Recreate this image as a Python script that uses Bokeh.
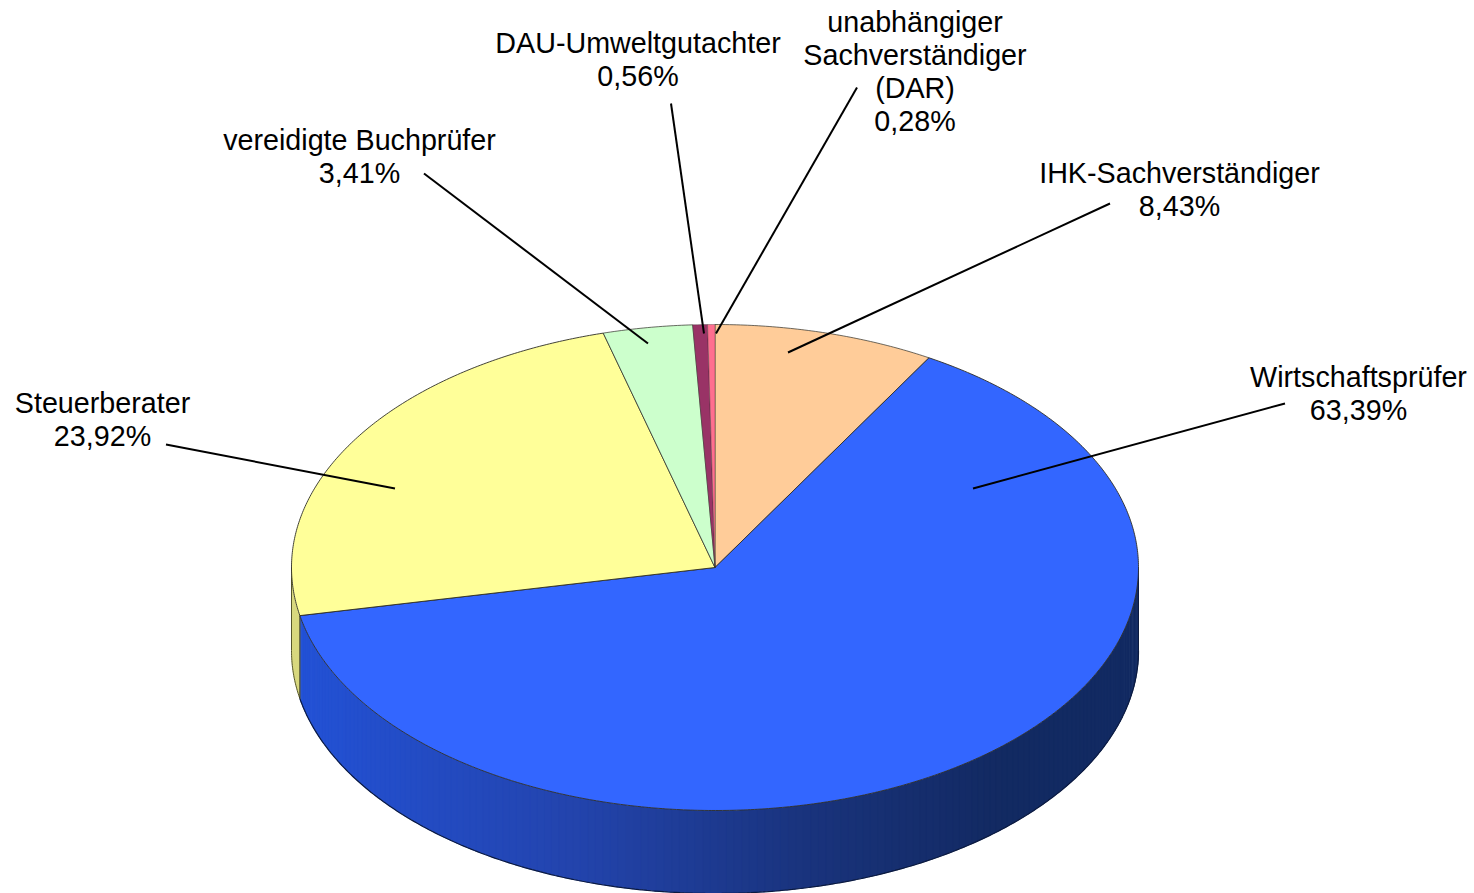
import numpy as np
from bokeh.plotting import figure
from bokeh.embed import file_html
from bokeh.resources import INLINE
from bokeh.core.properties import value

# chart values (clockwise from the top of the pie)
categories = ["IHK-Sachverständiger", "Wirtschaftsprüfer", "Steuerberater",
              "vereidigte Buchprüfer", "DAU-Umweltgutachter",
              "unabhängiger Sachverständiger (DAR)"]
shares = [8.43, 63.39, 23.92, 3.41, 0.56, 0.28]
top_colors = ["#FFCC99", "#3366FF", "#FFFF99", "#CCFFCC", "#993366", "#FF6F8F"]
side_colors = ["#B08D6A", "#2348B0", "#D8D87E", "#8DB08D", "#6A2347", "#B04D63"]
outline_alpha = [0.7, 0.9, 0.9, 0.7, 0.35, 0.35]

# label text, label centre, first line centre, leader line (from, to) in page pixels
label_lines = [["IHK-Sachverständiger", "8,43%"], ["Wirtschaftsprüfer", "63,39%"],
               ["Steuerberater", "23,92%"], ["vereidigte Buchprüfer", "3,41%"],
               ["DAU-Umweltgutachter", "0,56%"],
               ["unabhängiger", "Sachverständiger", "(DAR)", "0,28%"]]
label_x = [1179, 1358, 102, 359, 637.5, 914.5]
label_y = [172, 376, 402, 139, 42, 21]
leader_from = [(1109.5, 203), (1284.5, 403), (165.5, 444), (423.5, 173), (670.5, 103), (856.5, 87)]
leader_to = [(787.5, 352), (972.5, 488), (394.5, 488), (647.5, 343), (703.5, 333), (715.5, 333)]

cx, cy, rx, ry, depth = 714.5, 567, 423.5, 243, 83
TOTAL = sum(shares)


def rim(t):
    return cx + rx * np.sin(t), cy - ry * np.cos(t)


p = figure(width=1474, height=893, x_range=(0, 1474), y_range=(893, 0),
           output_backend="svg", toolbar_location=None, min_border=0,
           outline_line_color=None, background_fill_color="white")
p.axis.visible = False
p.grid.visible = False

edges = np.concatenate([[0], np.cumsum(shares)]) / TOTAL * 2 * np.pi

# side wall: only the part of the rim facing the viewer (pi/2 .. 3pi/2)
grad_x = [300, 580, 800, 1000, 1138]
grad_rgb = np.array([[0x24, 0x52, 0xD6], [0x23, 0x44, 0xAC], [0x1A, 0x34, 0x7E],
                     [0x13, 0x2A, 0x62], [0x12, 0x2A, 0x62]], float)
for i, (a, b) in enumerate(zip(edges[:-1], edges[1:])):
    lo, hi = max(a, np.pi / 2), min(b, 3 * np.pi / 2)
    if hi <= lo:
        continue
    if categories[i] == "Wirtschaftsprüfer":
        ts = np.linspace(lo, hi, 161)
        for t0, t1 in zip(ts[:-1], ts[1:]):
            t = np.linspace(t0, t1 + 0.004, 3)
            x, y = rim(t)
            mid = np.interp(x.mean(), grad_x, grad_rgb[:, 0]), np.interp(x.mean(), grad_x, grad_rgb[:, 1]), np.interp(x.mean(), grad_x, grad_rgb[:, 2])
            col = "#%02x%02x%02x" % tuple(int(c) for c in mid)
            p.patch(np.r_[x, x[::-1]], np.r_[y, y[::-1] + depth], fill_color=col, line_color=col, line_width=0.5)
    else:
        t = np.linspace(lo, hi, 60)
        x, y = rim(t)
        p.patch(np.r_[x, x[::-1]], np.r_[y, y[::-1] + depth], fill_color=side_colors[i],
                line_color=side_colors[i], line_width=0.5)

# outline of the side wall
t = np.linspace(np.pi / 2, edges[2], 300)
x, y = rim(t)
p.line(x, y + depth, line_color="#0b1a40", line_width=1.2)
t = np.linspace(edges[2], 3 * np.pi / 2, 30)
x, y = rim(t)
p.line(x, y + depth, line_color="#55552a", line_width=1)
xs, ys = rim(np.array([edges[2]]))
p.line([xs[0], xs[0]], [ys[0], ys[0] + depth], line_color="#333322", line_width=1)
xs, ys = rim(np.array([np.pi / 2]))
p.line([xs[0], xs[0]], [ys[0], ys[0] + depth], line_color="#0b1a40", line_width=1)
xs, ys = rim(np.array([3 * np.pi / 2]))
p.line([xs[0], xs[0]], [ys[0], ys[0] + depth], line_color="#55552a", line_width=1)

# top face
for i, (a, b) in enumerate(zip(edges[:-1], edges[1:])):
    t = np.linspace(a, b, max(4, int((b - a) * 120)))
    x, y = rim(t)
    p.patch(np.r_[cx, x], np.r_[cy, y], fill_color=top_colors[i],
            line_color="#2f2f28", line_width=1, line_alpha=outline_alpha[i])

# leaders
for (x0, y0), (x1, y1) in zip(leader_from, leader_to):
    p.line([x0, x1], [y0, y1], line_color="black", line_width=2)

# labels
for lines, lx, ly in zip(label_lines, label_x, label_y):
    for k, s in enumerate(lines):
        p.text([lx], [ly + k * 33], text=[s], text_font=value("Liberation Sans"),
               text_font_size="28.7px", text_align="center", text_baseline="middle",
               text_color="black")

open("out.html", "w").write(file_html(p, INLINE))
